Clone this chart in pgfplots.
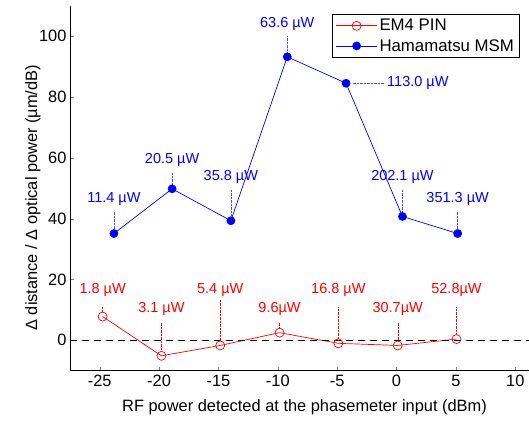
\documentclass[border=0pt]{standalone}
\usepackage{pgfplots}
\pgfplotsset{compat=1.18}
\usepackage{fontspec}
\setmainfont{Liberation Sans}
\begin{document}
\begin{tikzpicture}
\begin{axis}[
  name=ax,
  scale only axis,
  width=469pt, height=365pt,
  xmin=-27.5, xmax=12, ymin=-10, ymax=110,
  axis x line*=bottom, axis y line*=left,
  axis line style={line width=0.8pt},
  tick align=inside, major tick length=4pt,
  xtick={-25,-20,...,10}, ytick={0,20,...,100},
  /pgf/number format/assume math mode=true,
  tick label style={font=\fontsize{16.4}{16.4}\selectfont},
  xticklabel style={yshift=-1pt},
  xlabel={RF power detected at the phasemeter input (dBm)},
  ylabel={Δ distance / Δ optical power (µm/dB)},
  label style={font=\fontsize{16.4}{16.4}\selectfont},
  xlabel style={yshift=-6pt},
  ylabel style={at={(axis description cs:-0.079,0.474)}, anchor=center},
  legend image code/.code={\draw[mark repeat=2,mark phase=2,#1] plot coordinates {(0pt,0pt) (20.5pt,0pt) (41pt,0pt)};},
  legend style={at={(axis cs:-5.4,107.3)}, anchor=north west, draw=black, line width=0.8pt,
    font=\fontsize{16.8}{17}\selectfont, inner xsep=3pt, inner ysep=3pt, row sep=3pt,
    /tikz/every odd column/.style={xshift=3pt}},
  legend cell align=left,
  clip=false,
]
\addplot[red, line width=0.7pt, mark=o, mark size=4.5pt, mark options={line width=0.7pt}] coordinates {
(-24.75,7.8) (-19.8,-5.1) (-14.85,-1.7) (-9.85,2.5) (-4.9,-1.0) (0.1,-1.7) (5.05,0.4)};
\addlegendentry{EM4 PIN}
\addplot[blue, line width=0.7pt, mark=*, mark size=4pt] coordinates {
(-23.8,35.1) (-18.9,49.8) (-13.95,39.3) (-9.2,93.2) (-4.25,84.5) (0.5,40.7) (5.15,35.1)};
\addlegendentry{Hamamatsu MSM}
\draw[black, dashed, dash pattern=on 7pt off 5pt, line width=0.6pt] (axis cs:-27.5,0) -- (axis cs:12,0);
% red annotations
\begin{scope}[red, densely dotted, line width=0.4pt]
\draw (axis cs:-24.75,11) -- (axis cs:-24.75,9.5);
\draw (axis cs:-19.8,5.8) -- (axis cs:-19.8,-3.8);
\draw (axis cs:-14.85,13.3) -- (axis cs:-14.85,-0.3);
\draw (axis cs:-9.85,5.8) -- (axis cs:-9.85,3.8);
\draw (axis cs:-4.9,10.8) -- (axis cs:-4.9,0.2);
\draw (axis cs:0.1,5.8) -- (axis cs:0.1,-0.4);
\draw (axis cs:5.05,10.8) -- (axis cs:5.05,1.8);
\end{scope}
\begin{scope}[font=\fontsize{14.5}{14.5}\selectfont, text=red]
\node at (axis cs:-24.75,16.5) {1.8 µW};
\node at (axis cs:-19.8,10.2) {3.1 µW};
\node at (axis cs:-14.85,16.5) {5.4 µW};
\node at (axis cs:-9.85,10.2) {9.6µW};
\node at (axis cs:-4.9,16.5) {16.8 µW};
\node at (axis cs:0.1,10.2) {30.7µW};
\node at (axis cs:5.05,16.5) {52.8µW};
\end{scope}
% blue annotations
\begin{scope}[blue!70, densely dotted, line width=0.4pt]
\draw (axis cs:-23.8,42.3) -- (axis cs:-23.8,36.6);
\draw (axis cs:-18.9,55) -- (axis cs:-18.9,51.3);
\draw (axis cs:-13.95,49.5) -- (axis cs:-13.95,40.8);
\draw (axis cs:-9.2,100) -- (axis cs:-9.2,94.7);
\draw (axis cs:-3.7,84.5) -- (axis cs:-1.0,84.5);
\draw (axis cs:0.5,49.5) -- (axis cs:0.5,42.2);
\draw (axis cs:5.15,42.3) -- (axis cs:5.15,36.6);
\end{scope}
\begin{scope}[font=\fontsize{14.5}{14.5}\selectfont, text=blue]
\node at (axis cs:-23.8,46.4) {11.4 µW};
\node at (axis cs:-18.9,59.2) {20.5 µW};
\node at (axis cs:-13.95,53.6) {35.8 µW};
\node at (axis cs:-9.2,104) {63.6 µW};
\node[anchor=west, inner sep=0pt] at (axis cs:-0.8,84.5) {113.0 µW};
\node at (axis cs:0.5,53.6) {202.1 µW};
\node at (axis cs:5.15,46.4) {351.3 µW};
\end{scope}
\end{axis}
\pgfresetboundingbox
\useasboundingbox ([xshift=-70pt, yshift=-52.3pt]ax.south west) rectangle ++(529pt,423pt);
\end{tikzpicture}
\end{document}
